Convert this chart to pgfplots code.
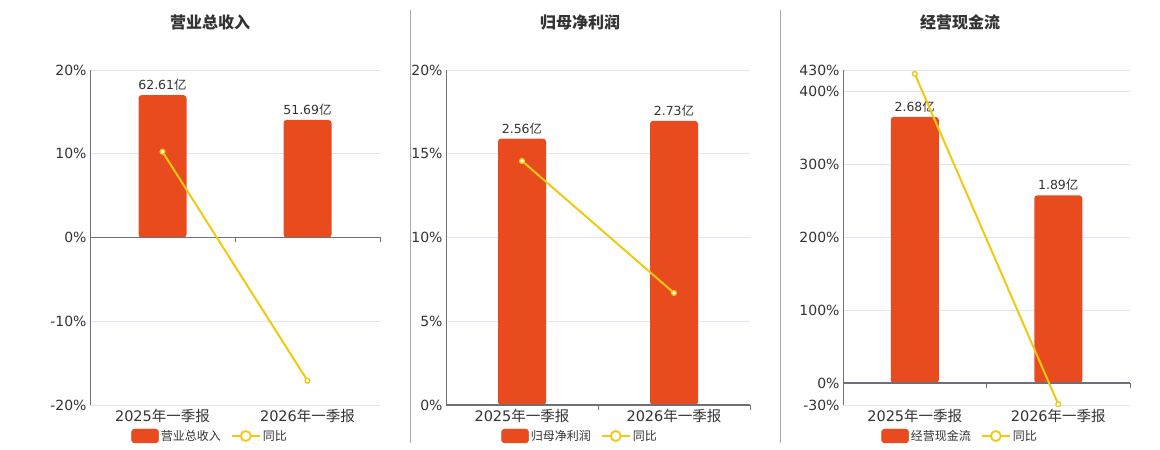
\documentclass[border=0pt]{standalone}
\usepackage{pgfplots}
\pgfplotsset{compat=1.18}
\usepackage{fontspec}
\setmainfont{DejaVu Sans}
\newfontfamily\cjk{Noto Sans CJK SC}
\definecolor{barc}{HTML}{E84C1E}
\definecolor{linec}{HTML}{F2C811}
\definecolor{gridc}{HTML}{E0E6F1}
\definecolor{axc}{HTML}{6E7079}
\definecolor{txt}{HTML}{333333}
\definecolor{divc}{HTML}{AAAAAA}

\pgfplotstableread{
x v lab
0 62.61 62.61
1 51.69 51.69
}\barA
\pgfplotstableread{
x v
0 10.24
1 -17.1
}\lineA
\pgfplotstableread{
x v lab
0 2.56 2.56
1 2.73 2.73
}\barB
\pgfplotstableread{
x v
0 14.57
1 6.69
}\lineB
\pgfplotstableread{
x v lab
0 2.68 2.68
1 1.89 1.89
}\barC
\pgfplotstableread{
x v
0 424.7
1 -28.9
}\lineC

\pgfplotsset{
  panel/.style={scale only axis, height=335pt, xmin=-0.5, xmax=1.5, clip=false,
    anchor=south west},
  gridax/.style={panel, axis line style={draw=none}, tick style={draw=none},
    ymajorgrids, grid style={gridc, line width=0.8pt},
    xtick={0,1}, xticklabels={{2025\cjk 年一季报},{2026\cjk 年一季报}},
    tick label style={font=\fontsize{14}{16}\selectfont, text=txt},
    xticklabel style={yshift=-1pt, font=\fontsize{14.5}{16}\selectfont}},
  barax/.style={panel, hide axis, ybar, bar width=48pt,
    point meta=explicit symbolic,
    nodes near coords={\pgfplotspointmeta{\cjk 亿}},
    every node near coord/.append style={font=\fontsize{12.5}{14}\selectfont, text=txt, yshift=1pt}},
  lineax/.style={panel, hide axis,
    legend columns=2,
    legend style={draw=none, fill=none, font=\fontsize{12}{14}\selectfont\cjk, text=txt,
      anchor=center, /tikz/every even column/.append style={column sep=8pt},
      inner sep=0pt}},
  yoyline/.style={linec, line width=2pt, mark=*, mark size=2.4pt,
    mark options={fill=white, draw=linec, line width=1.3pt},
    legend image code/.code={
      \draw[linec, line width=2pt] (0pt,0pt) -- (28pt,0pt);
      \draw[linec, line width=1.8pt, fill=white] (14pt,0pt) circle (5pt);}},
  barleg/.style={legend image code/.code={
      \fill[barc, rounded corners=3pt] (0pt,-7pt) rectangle (27pt,7pt);}},
}

\begin{document}
\begin{tikzpicture}
\useasboundingbox (0pt,0pt) rectangle (1160pt,450pt);
% dividers
\draw[divc, line width=1pt] (410.5pt,440pt) -- (410.5pt,7pt);
\draw[divc, line width=1pt] (780.5pt,440pt) -- (780.5pt,7pt);
% titles
\node[font=\fontsize{16}{18}\selectfont\cjk\bfseries, text=txt] at (210pt,428pt) {营业总收入};
\node[font=\fontsize{16}{18}\selectfont\cjk\bfseries, text=txt] at (580pt,428pt) {归母净利润};
\node[font=\fontsize{16}{18}\selectfont\cjk\bfseries, text=txt] at (960pt,428pt) {经营现金流};

% ===== Panel 1 =====
\begin{axis}[gridax, at={(90pt,45pt)}, width=290pt, ymin=-20, ymax=20,
  ytick={-20,-10,0,10,20}, yticklabels={-20\%,-10\%,0\%,10\%,20\%}]
\end{axis}
\begin{axis}[barax, at={(90pt,45pt)}, width=290pt, ymin=-73.66, ymax=73.66]
\addplot[fill=barc, draw=none, rounded corners=3pt] table[x=x, y=v, meta=lab] {\barA};
\end{axis}
\begin{axis}[lineax, at={(90pt,45pt)}, width=290pt, ymin=-20, ymax=20,
  legend style={at={(0.414,-0.0925)}}]
\draw[axc, line width=1pt] (axis cs:-0.5,-20) -- (axis cs:-0.5,20);
\draw[axc, line width=1.5pt] (axis cs:-0.5,0) -- (axis cs:1.5,0);
\draw[axc, line width=1pt] (axis cs:0.5,0) -- ++(0pt,-5pt);
\draw[axc, line width=1pt] (axis cs:1.5,0) -- ++(0pt,-5pt);
\addlegendimage{barleg}
\addlegendentry{营业总收入}
\addplot[yoyline] table[x=x, y=v] {\lineA};
\addlegendentry{同比}
\end{axis}

% ===== Panel 2 =====
\begin{axis}[gridax, at={(446pt,45pt)}, width=304pt, ymin=0, ymax=20,
  ytick={0,5,10,15,20}, yticklabels={0\%,5\%,10\%,15\%,20\%}]
\end{axis}
\begin{axis}[barax, at={(446pt,45pt)}, width=304pt, ymin=0, ymax=3.219]
\addplot[fill=barc, draw=none, rounded corners=3pt] table[x=x, y=v, meta=lab] {\barB};
\end{axis}
\begin{axis}[lineax, at={(446pt,45pt)}, width=304pt, ymin=0, ymax=20,
  legend style={at={(0.441,-0.0925)}}]
\draw[axc, line width=1pt] (axis cs:-0.5,0) -- (axis cs:-0.5,20);
\draw[axc, line width=1.5pt] (axis cs:-0.5,0) -- (axis cs:1.5,0);
\draw[axc, line width=1pt] (axis cs:0.5,0) -- ++(0pt,-5pt);
\draw[axc, line width=1pt] (axis cs:1.5,0) -- ++(0pt,-5pt);
\addlegendimage{barleg}
\addlegendentry{归母净利润}
\addplot[yoyline] table[x=x, y=v] {\lineB};
\addlegendentry{同比}
\end{axis}

% ===== Panel 3 =====
\begin{axis}[gridax, at={(843pt,45pt)}, width=287pt, ymin=-30, ymax=430,
  ytick={-30,0,100,200,300,400,430}, yticklabels={-30\%,0\%,100\%,200\%,300\%,400\%,430\%}]
\end{axis}
\begin{axis}[barax, at={(843pt,45pt)}, width=287pt, ymin=-0.220, ymax=3.152]
\addplot[fill=barc, draw=none, rounded corners=3pt] table[x=x, y=v, meta=lab] {\barC};
\end{axis}
\begin{axis}[lineax, at={(843pt,45pt)}, width=287pt, ymin=-30, ymax=430,
  legend style={at={(0.408,-0.0925)}}]
\draw[axc, line width=1pt] (axis cs:-0.5,-30) -- (axis cs:-0.5,430);
\draw[axc, line width=1.5pt] (axis cs:-0.5,0) -- (axis cs:1.5,0);
\draw[axc, line width=1pt] (axis cs:0.5,0) -- ++(0pt,-5pt);
\draw[axc, line width=1pt] (axis cs:1.5,0) -- ++(0pt,-5pt);
\addlegendimage{barleg}
\addlegendentry{经营现金流}
\addplot[yoyline] table[x=x, y=v] {\lineC};
\addlegendentry{同比}
\end{axis}
\end{tikzpicture}
\end{document}
